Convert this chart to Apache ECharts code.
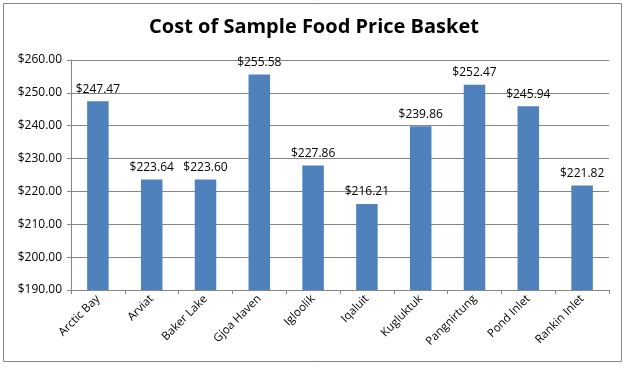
<!DOCTYPE html>
<html><head><meta charset="utf-8">
<script src="https://cdn.jsdelivr.net/npm/echarts@6/dist/echarts.min.js"></script>
<style>html,body{margin:0;padding:0;background:#fff}#c{width:628px;height:368px}</style>
</head><body><div id="c"></div>
<script>
var categories = ["Arctic Bay","Arviat","Baker Lake","Gjoa Haven","Igloolik","Iqaluit","Kugluktuk","Pangnirtung","Pond Inlet","Rankin Inlet"];
var values = [247.47,223.64,223.60,255.58,227.86,216.21,239.86,252.47,245.94,221.82];
var yTicks = {min:190, max:260, interval:10};
var titleText = "Cost of Sample Food Price Basket";

var chart = echarts.init(document.getElementById('c'), null, {renderer:'canvas'});
var fontFam = "'Open Sans', 'Liberation Sans', sans-serif";
chart.setOption({
  animation:false,
  title:{text:titleText,left:'center',top:12,textStyle:{fontFamily:fontFam,fontSize:20,fontWeight:'bold',color:'#000'}},
  graphic:[{type:'rect',shape:{x:3.5,y:3.5,width:618,height:358},style:{fill:'none',stroke:'#868686',lineWidth:1},silent:true}],
  grid:{left:71,right:19,top:60,bottom:78,containLabel:false},
  xAxis:{type:'category',data:categories,
    axisLine:{lineStyle:{color:'#868686'}},
    axisTick:{show:true,alignWithLabel:false,lineStyle:{color:'#868686'},length:4},
    axisLabel:{rotate:45,interval:0,fontFamily:fontFam,fontSize:11.5,color:'#000',margin:7}},
  yAxis:{type:'value',min:yTicks.min,max:yTicks.max,interval:yTicks.interval,
    axisLine:{show:true,lineStyle:{color:'#868686'}},
    axisTick:{show:true,inside:false,length:4,lineStyle:{color:'#868686'}},
    splitLine:{lineStyle:{color:'#868686'}},
    axisLabel:{fontFamily:fontFam,fontSize:12,color:'#000',margin:9,formatter:function(v){return '$'+v.toFixed(2);}}},
  series:[{type:'bar',data:values,barWidth:'40%',itemStyle:{color:'#4F81BD'},
    label:{show:true,position:'top',distance:6,fontFamily:fontFam,fontSize:12,color:'#000',formatter:function(p){return '$'+p.value.toFixed(2);}}}]
});
</script></body></html>
